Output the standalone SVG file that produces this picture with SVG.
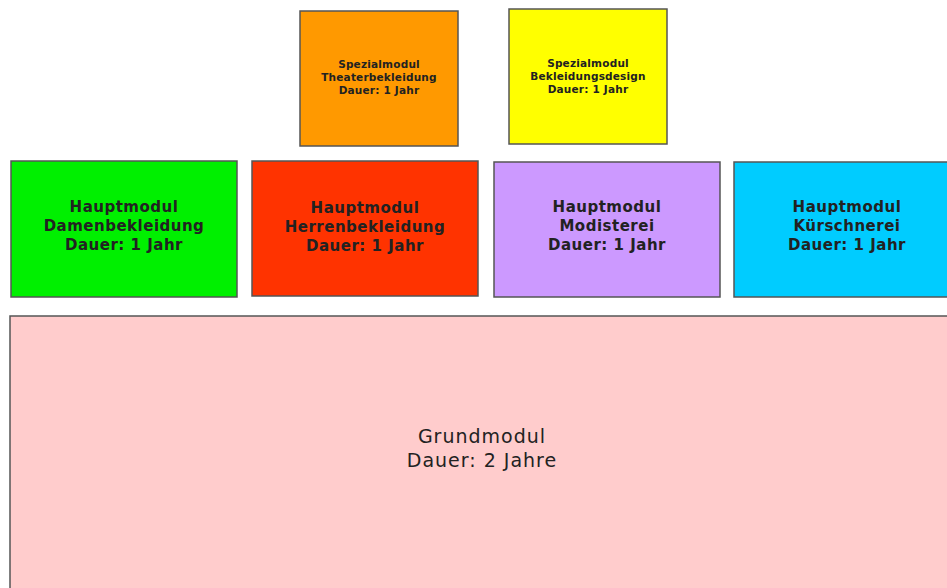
<svg xmlns="http://www.w3.org/2000/svg" width="947" height="588" viewBox="0 0 947 588">
<style>
.box{stroke:#555;stroke-width:1.5}
.h{font-family:"DejaVu Sans",Verdana,sans-serif;font-weight:bold;font-size:15px;letter-spacing:0.5px;fill:#222;text-anchor:middle}
.s{font-family:"DejaVu Sans",Verdana,sans-serif;font-weight:bold;font-size:10.5px;letter-spacing:0.2px;fill:#222;text-anchor:middle}
.g{font-family:"DejaVu Sans",Verdana,sans-serif;font-size:19px;letter-spacing:1px;fill:#222;text-anchor:middle}
</style>
<rect width="947" height="588" fill="#fff"/>
<g id="spezial-theater">
<rect class="box" x="300" y="11" width="158" height="135" fill="#FF9900"/>
<text class="s" x="379" y="68">Spezialmodul</text>
<text class="s" x="379" y="81">Theaterbekleidung</text>
<text class="s" x="379" y="94">Dauer: 1 Jahr</text>
</g>
<g id="spezial-design">
<rect class="box" x="509" y="9" width="158" height="135" fill="#FFFF00"/>
<text class="s" x="588" y="67">Spezialmodul</text>
<text class="s" x="588" y="80">Bekleidungsdesign</text>
<text class="s" x="588" y="93">Dauer: 1 Jahr</text>
</g>
<g id="haupt-damen">
<rect class="box" x="11" y="161" width="226" height="136" fill="#00F000"/>
<text class="h" x="124" y="212">Hauptmodul</text>
<text class="h" x="124" y="231">Damenbekleidung</text>
<text class="h" x="124" y="250">Dauer: 1 Jahr</text>
</g>
<g id="haupt-herren">
<rect class="box" x="252" y="161" width="226" height="135" fill="#FF3300"/>
<text class="h" x="365" y="213">Hauptmodul</text>
<text class="h" x="365" y="232">Herrenbekleidung</text>
<text class="h" x="365" y="251">Dauer: 1 Jahr</text>
</g>
<g id="haupt-modisterei">
<rect class="box" x="494" y="162" width="226" height="135" fill="#CC99FF"/>
<text class="h" x="607" y="212">Hauptmodul</text>
<text class="h" x="607" y="231">Modisterei</text>
<text class="h" x="607" y="250">Dauer: 1 Jahr</text>
</g>
<g id="haupt-kuerschnerei">
<rect class="box" x="734" y="162" width="226" height="135" fill="#00CCFF"/>
<text class="h" x="847" y="212">Hauptmodul</text>
<text class="h" x="847" y="231">Kürschnerei</text>
<text class="h" x="847" y="250">Dauer: 1 Jahr</text>
</g>
<g id="grundmodul">
<rect class="box" x="10" y="316" width="950" height="280" fill="#FFCCCC"/>
<text class="g" x="482" y="443">Grundmodul</text>
<text class="g" x="482" y="467">Dauer: 2 Jahre</text>
</g>
<g id="connectors"></g>
</svg>
